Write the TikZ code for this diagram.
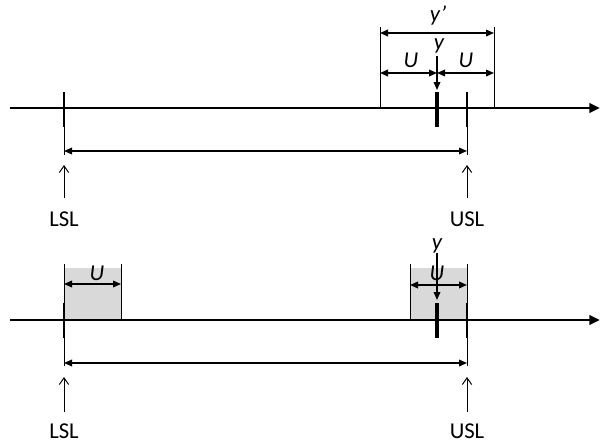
\documentclass[tikz,border=0pt]{standalone}
\usepackage{fontspec}
\setmainfont{Carlito}
\usetikzlibrary{arrows.meta}
\begin{document}
\begin{tikzpicture}[x=0.75pt,y=-0.75pt,
  axisline/.style={line width=2.2pt,-{Triangle[length=8pt,width=7pt]}},
  tickline/.style={line width=2.1pt},
  ytick/.style={line width=3.4pt},
  thinline/.style={line width=0.75pt},
  dimarrow/.style={line width=1pt,{Triangle[length=6pt,width=5pt]}-{Triangle[length=6pt,width=5pt]}},
  downarrow/.style={line width=1pt,-{Triangle[length=6pt,width=5pt]}},
  uparrow/.style={line width=0.75pt,-{Straight Barb[length=5pt,width=7pt]}},
  lbl/.style={font=\fontsize{17}{20}\selectfont,inner sep=0pt},
  ilbl/.style={font=\fontsize{17}{20}\selectfont\itshape,inner sep=0pt},
  shade/.style={fill=black!15,draw=none}]
\useasboundingbox (0,0) rectangle (600,443);
% ---------- top ----------
\coordinate (t0) at (10,108);
\coordinate (t1) at (600,108);
\draw[axisline] (t0) -- (t1);
\coordinate (tLa) at (64,92); \coordinate (tLb) at (64,127); \coordinate (tLc) at (64,155);
\coordinate (tUa) at (467,92); \coordinate (tUb) at (467,127); \coordinate (tUc) at (467,155);
\draw[tickline] (tLa) -- (tLb);
\draw[thinline] (tLb) -- (tLc);
\draw[tickline] (tUa) -- (tUb);
\draw[thinline] (tUb) -- (tUc);
\coordinate (tya) at (437,92); \coordinate (tyb) at (437,127);
\draw[ytick] (tya) -- (tyb);
\coordinate (tv1a) at (380,27); \coordinate (tv1b) at (380,108);
\coordinate (tv2a) at (494,27); \coordinate (tv2b) at (494,108);
\draw[thinline] (tv1a) -- (tv1b);
\draw[thinline] (tv2a) -- (tv2b);
\coordinate (yp1) at (380,33); \coordinate (yp2) at (494,33);
\draw[dimarrow] (yp1) -- (yp2);
\node[ilbl] (yplbl) at (438,15) {y’};
\coordinate (tu1) at (380,73); \coordinate (tu2) at (437,73); \coordinate (tu3) at (494,73);
\draw[dimarrow] (tu1) -- (tu2);
\draw[dimarrow] (tu2) -- (tu3);
\node[ilbl] (tulbl1) at (411,60) {U};
\node[ilbl] (tulbl2) at (466,60) {U};
\node[ilbl] (tylbl) at (439,46) {y};
\coordinate (tyarr1) at (437,56); \coordinate (tyarr2) at (437,90);
\draw[downarrow] (tyarr1) -- (tyarr2);
\coordinate (td1) at (64,151); \coordinate (td2) at (467,151);
\draw[dimarrow] (td1) -- (td2);
\node[lbl] (tlsl) at (64,219) {LSL};
\node[lbl] (tusl) at (467,219) {USL};
\coordinate (tLup) at (64,165); \coordinate (tUup) at (467,165);
\draw[uparrow] (64,198) -- (tLup);
\draw[uparrow] (467,198) -- (tUup);
% ---------- bottom ----------
\fill[shade] (64,268) rectangle (121,320);
\fill[shade] (410,268) rectangle (467,320);
\coordinate (b0) at (10,320);
\coordinate (b1) at (600,320);
\draw[axisline] (b0) -- (b1);
\draw[thinline] (64,264) -- (64,320);
\draw[thinline] (121,264) -- (121,320);
\draw[thinline] (410,264) -- (410,320);
\draw[thinline] (467,264) -- (467,303);
\coordinate (bLa) at (64,303); \coordinate (bLb) at (64,338); \coordinate (bLc) at (64,366);
\coordinate (bUa) at (467,303); \coordinate (bUb) at (467,338); \coordinate (bUc) at (467,366);
\draw[tickline] (bLa) -- (bLb);
\draw[thinline] (bLb) -- (bLc);
\draw[tickline] (bUa) -- (bUb);
\draw[thinline] (bUb) -- (bUc);
\coordinate (bya) at (437,303); \coordinate (byb) at (437,338);
\draw[ytick] (bya) -- (byb);
\coordinate (bu1) at (64,284); \coordinate (bu2) at (121,284);
\coordinate (bu3) at (410,285); \coordinate (bu4) at (467,285);
\draw[dimarrow] (bu1) -- (bu2);
\draw[dimarrow] (bu3) -- (bu4);
\node[ilbl] (bulbl1) at (97,273) {U};
\node[ilbl] (bulbl2) at (437,273) {U};
\node[ilbl] (bylbl) at (437,246) {y};
\coordinate (byarr1) at (437,253); \coordinate (byarr2) at (437,300);
\draw[downarrow] (byarr1) -- (byarr2);
\coordinate (bd1) at (64,363); \coordinate (bd2) at (467,363);
\draw[dimarrow] (bd1) -- (bd2);
\node[lbl] (blsl) at (64,431) {LSL};
\node[lbl] (busl) at (467,431) {USL};
\coordinate (bLup) at (64,377); \coordinate (bUup) at (467,377);
\draw[uparrow] (64,412) -- (bLup);
\draw[uparrow] (467,412) -- (bUup);
\end{tikzpicture}
\end{document}
